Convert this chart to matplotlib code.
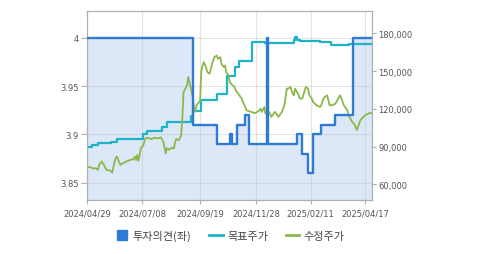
import numpy as np
import matplotlib
matplotlib.use('Agg')
import matplotlib.pyplot as plt
from matplotlib.lines import Line2D
from matplotlib.ticker import FuncFormatter

plt.rcParams['font.family'] = ['DejaVu Sans', 'Noto Sans CJK KR']

# x axis counts KRX trading days, so market holidays are skipped
START = '2024-04-29'
KRX_HOLIDAYS = ['2024-05-01', '2024-05-06', '2024-05-15', '2024-06-06', '2024-08-15',
                '2024-09-16', '2024-09-17', '2024-09-18', '2024-10-01', '2024-10-03',
                '2024-10-09', '2024-12-25', '2024-12-31', '2025-01-01', '2025-01-27',
                '2025-01-28', '2025-01-29', '2025-01-30', '2025-03-03']

tick_dates = ['2024-04-29', '2024-07-08', '2024-09-19', '2024-11-28', '2025-02-11', '2025-04-17']
end_date = '2025-04-25'

# 투자의견 (left axis)
opinion_dates = ['2024-04-29', '2024-09-06', '2024-10-14', '2024-10-29', '2024-10-31',
                 '2024-11-06', '2024-11-15', '2024-11-20', '2024-12-11', '2024-12-12',
                 '2025-01-21', '2025-01-31', '2025-02-07', '2025-02-13', '2025-02-24',
                 '2025-03-13', '2025-04-03', '2025-04-25']
opinion = [4.0, 3.91, 3.89, 3.90, 3.89, 3.91, 3.92, 3.89, 4.0, 3.89,
           3.90, 3.88, 3.86, 3.90, 3.91, 3.92, 4.0, 4.0]

# 목표주가 (right axis)
target_dates = ['2024-04-29', '2024-05-07', '2024-05-14', '2024-05-30', '2024-06-07',
                '2024-07-09', '2024-07-12', '2024-07-31', '2024-08-06', '2024-09-04',
                '2024-09-06', '2024-09-20', '2024-10-14', '2024-10-25', '2024-11-04',
                '2024-11-08', '2024-11-25', '2024-12-10', '2025-01-16', '2025-01-17',
                '2025-01-21', '2025-01-23', '2025-02-21', '2025-03-07', '2025-03-28',
                '2025-04-25']
target = [89500, 91400, 92500, 93900, 96100, 99700, 102000, 105700, 109100, 114400,
          118400, 127300, 132000, 145900, 153400, 158100, 172900, 172500, 174700, 176700,
          174500, 173700, 172900, 170800, 171500, 171500]

# 수정주가 (right axis)
price_dates = ['2024-04-29', '2024-04-30', '2024-05-03', '2024-05-08', '2024-05-10',
               '2024-05-14', '2024-05-16', '2024-05-20', '2024-05-22', '2024-05-24',
               '2024-05-29', '2024-05-30', '2024-05-31', '2024-06-04', '2024-06-05',
               '2024-06-07', '2024-06-10', '2024-06-12', '2024-06-14', '2024-06-20',
               '2024-06-27', '2024-06-28', '2024-07-01', '2024-07-02', '2024-07-03',
               '2024-07-05', '2024-07-08', '2024-07-09', '2024-07-11', '2024-07-15',
               '2024-07-18', '2024-07-23', '2024-07-26', '2024-07-30', '2024-08-01',
               '2024-08-05', '2024-08-06', '2024-08-08', '2024-08-12', '2024-08-14',
               '2024-08-16', '2024-08-19', '2024-08-21', '2024-08-22', '2024-08-23',
               '2024-08-26', '2024-08-27', '2024-08-28', '2024-08-30', '2024-09-02',
               '2024-09-04', '2024-09-06', '2024-09-09', '2024-09-10', '2024-09-11',
               '2024-09-12', '2024-09-13', '2024-09-19', '2024-09-20', '2024-09-23',
               '2024-09-24', '2024-09-26', '2024-09-27', '2024-10-02', '2024-10-07',
               '2024-10-10', '2024-10-14', '2024-10-15', '2024-10-17', '2024-10-18',
               '2024-10-22', '2024-10-23', '2024-10-24', '2024-10-28', '2024-10-29',
               '2024-10-30', '2024-11-04', '2024-11-05', '2024-11-08', '2024-11-12',
               '2024-11-13', '2024-11-15', '2024-11-18', '2024-11-19', '2024-11-22',
               '2024-11-27', '2024-12-02', '2024-12-04', '2024-12-05', '2024-12-09',
               '2024-12-10', '2024-12-11', '2024-12-13', '2024-12-17', '2024-12-20',
               '2024-12-26', '2025-01-02', '2025-01-06', '2025-01-08', '2025-01-09',
               '2025-01-13', '2025-01-15', '2025-01-16', '2025-01-17', '2025-01-22',
               '2025-01-23', '2025-01-31', '2025-02-05', '2025-02-07', '2025-02-10',
               '2025-02-12', '2025-02-13', '2025-02-18', '2025-02-21', '2025-02-24',
               '2025-02-26', '2025-02-27', '2025-03-04', '2025-03-06', '2025-03-10',
               '2025-03-13', '2025-03-18', '2025-03-19', '2025-03-24', '2025-03-27',
               '2025-03-28', '2025-04-02', '2025-04-04', '2025-04-08', '2025-04-09',
               '2025-04-11', '2025-04-17', '2025-04-23', '2025-04-25']
price = [74000, 73600, 73500, 72500, 72800, 71500, 75400, 78100, 75400, 71500,
         71000, 70200, 69400, 78000, 81000, 82000, 79300, 75400, 76700, 78600,
         80200, 82000, 79300, 83300, 78500, 88000, 89900, 90700, 96500, 97000,
         95900, 97000, 96500, 97300, 93900, 84600, 88600, 87500, 89100, 88600,
         93900, 95900, 95100, 96500, 99000, 112000, 133000, 135000, 138600, 145200,
         137300, 128100, 120200, 117600, 122800, 124100, 125000, 126000, 150000, 154000,
         157100, 153100, 149200, 147800, 155700, 161000, 162300, 159700, 161000, 155700,
         153100, 154400, 149200, 146500, 141300, 139900, 137300, 134700, 130700, 128100,
         125500, 121500, 118900, 118400, 117600, 116500, 118000, 120000, 117500, 121500,
         116200, 117600, 117600, 113600, 117600, 113600, 117600, 122800, 136000, 136000,
         137300, 132000, 130700, 136000, 130700, 128100, 128100, 137300, 136000, 130700,
         128100, 125500, 122800, 121500, 122800, 128100, 129400, 130700, 122800, 122800,
         124100, 129400, 130700, 122800, 118900, 114900, 109700, 107500, 103100, 105700,
         111000, 114900, 116800, 116200]

BLUE = '#2f7bd4'
FILL = '#dce7f7'
CYAN = '#1db4c8'
GREEN = '#8cb84b'
GRAY = '#b0b0b0'
TEXT = '#555555'


def trading_idx(dates):
    return np.busday_count(START, np.array(dates, dtype='datetime64[D]'), holidays=KRX_HOLIDAYS)


x_op = trading_idx(opinion_dates)
x_tg = trading_idx(target_dates)
x_pr = trading_idx(price_dates)
x_ticks = trading_idx(tick_dates)
x_end = trading_idx([end_date])[0]

fig = plt.figure(figsize=(4.79, 2.55), dpi=100)
ax = fig.add_axes([87.3 / 479, 1 - 201 / 255, 285 / 479, 189 / 255])
ax2 = ax.twinx()

ax.fill_between(x_op, opinion, 3.0, step='post', color=FILL, lw=0)
ax.set_xlim(0, x_end)
ax.set_ylim(3.832, 4.028)
ax.set_yticks([3.85, 3.9, 3.95, 4.0])
ax.yaxis.set_major_formatter(FuncFormatter(lambda v, p: '%g' % v))
ax.set_xticks(x_ticks)
ax.set_xticklabels([d.replace('-', '/') for d in tick_dates])
ax.grid(True, color='#c8c8c8', alpha=0.5, lw=0.8)

ax2.step(x_tg, target, where='post', color=CYAN, lw=1.6, zorder=2)
ax2.plot(x_pr, price, color=GREEN, lw=1.3, zorder=2)
# opinion line drawn on top of the price lines, in left-axis units
ax2.step(x_op, opinion, where='post', color=BLUE, lw=1.7, zorder=3, transform=ax.transData)
ax2.set_ylim(47500, 197700)
ax2.set_yticks([60000, 90000, 120000, 150000, 180000])
ax2.yaxis.set_major_formatter(FuncFormatter(lambda v, p: '{:,.0f}'.format(v)))
ax2.set_xlim(0, x_end)

for s in ax.spines.values():
    s.set_visible(False)
for s in ax2.spines.values():
    s.set_color(GRAY)
    s.set_linewidth(0.9)
ax.tick_params(axis='y', length=4.5, color=GRAY, labelsize=6, labelcolor=TEXT, pad=1.5)
ax.tick_params(axis='x', length=3, color=GRAY, labelsize=6, labelcolor=TEXT, pad=3)
ax2.tick_params(axis='y', length=3, color=GRAY, labelsize=6, labelcolor=TEXT, pad=1.5)

handles = [Line2D([], [], marker='s', ls='none', color=BLUE, markersize=6.5),
           Line2D([], [], color=CYAN, lw=2),
           Line2D([], [], color=GREEN, lw=2)]
labels = ['투자의견(좌)', '목표주가', '수정주가']
ax2.legend(handles, labels, loc='center', bbox_to_anchor=(0.5, -0.19), ncol=3, frameon=False,
           handlelength=1.2, handletextpad=0.4, columnspacing=1.6,
           prop={'family': ['Noto Sans CJK KR', 'DejaVu Sans'], 'size': 8}, labelcolor='#444444')

fig.savefig('out.png', dpi=100)
